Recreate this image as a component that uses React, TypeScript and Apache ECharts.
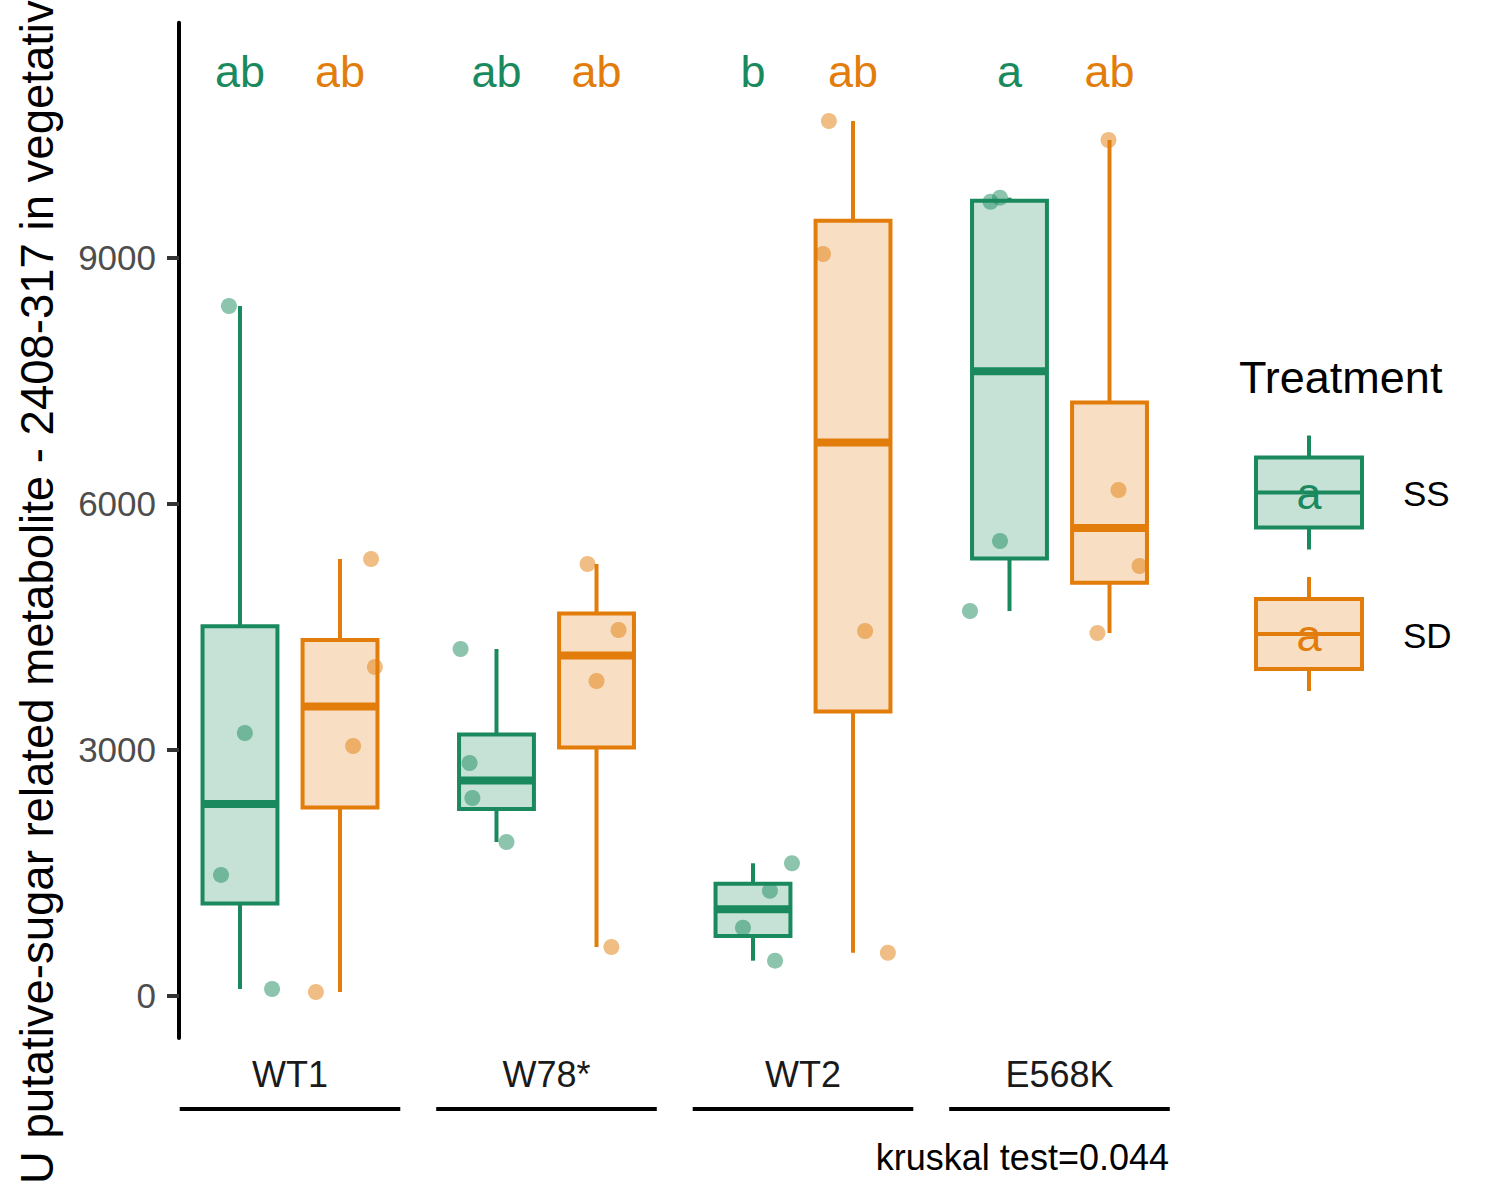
import React, { useEffect, useRef } from "react";
import * as echarts from "echarts";

// ---------- data ----------
const GROUPS = ["WT1", "W78*", "WT2", "E568K"];
const TREATMENTS = ["SS", "SD"];

// four plants per genotype and treatment
const SS_VALUES = [
  [8411, 3204, 1473, 82],
  [4228, 2838, 2411, 1874],
  [1615, 1280, 829, 427],
  [9683, 9732, 5545, 4691],
];
const SD_VALUES = [
  [5326, 4009, 3045, 45],
  [5265, 4460, 3838, 594],
  [10667, 9045, 4447, 524],
  [10435, 6167, 5240, 4423],
];
// horizontal jitter of each point (fraction of a category band)
const SS_JITTER = [
  [-0.043, 0.019, -0.074, 0.125],
  [-0.14, -0.105, -0.094, 0.039],
  [0.152, 0.066, -0.039, 0.086],
  [-0.074, -0.037, -0.037, -0.154],
];
const SD_JITTER = [
  [0.121, 0.136, 0.051, -0.094],
  [-0.035, 0.086, 0.0, 0.058],
  [-0.094, -0.117, 0.047, 0.136],
  [-0.004, 0.035, 0.117, -0.047],
];
const SS_LETTERS = ["ab", "ab", "b", "a"];
const SD_LETTERS = ["ab", "ab", "ab", "ab"];
const LETTER_Y = 11270;
const Y_TICKS = [0, 3000, 6000, 9000];
const Y_MIN = -516;
const Y_MAX = 11866;
const Y_TITLE = "U putative-sugar related metabolite - 2408-317 in vegetative tissue";
const TEST_NOTE = "kruskal test=0.044";
const LEGEND_TITLE = "Treatment";

// ---------- style ----------
const FONT = '"Liberation Sans", Arial, Helvetica, sans-serif';
const GREEN = "#1A8A5E";
const GREEN_FILL = "rgba(26,138,94,0.25)";
const ORANGE = "#E27D0C";
const ORANGE_FILL = "rgba(226,125,12,0.25)";
const DODGE = 0.195;
const BOX_W = 0.292;

function quantile(s: number[], p: number) {
  const h = (s.length - 1) * p;
  const lo = Math.floor(h);
  const hi = Math.min(lo + 1, s.length - 1);
  return s[lo] + (h - lo) * (s[hi] - s[lo]);
}
function boxStats(vals: number[]) {
  const s = [...vals].sort((a, b) => a - b);
  const q1 = quantile(s, 0.25);
  const md = quantile(s, 0.5);
  const q3 = quantile(s, 0.75);
  const iqr = q3 - q1;
  const lo = Math.min(...s.filter((v) => v >= q1 - 1.5 * iqr));
  const hi = Math.max(...s.filter((v) => v <= q3 + 1.5 * iqr));
  return [lo, q1, md, q3, hi];
}

function boxSeries(name: string, values: number[][], offset: number, color: string, fill: string) {
  return {
    name,
    type: "custom",
    xAxisIndex: 1,
    z: 2,
    clip: false,
    data: values.map((v, i) => [i + offset, ...boxStats(v)]),
    renderItem: (params: any, api: any) => {
      const x = api.value(0);
      const lo = api.coord([x, api.value(1)]);
      const q1 = api.coord([x, api.value(2)]);
      const md = api.coord([x, api.value(3)]);
      const q3 = api.coord([x, api.value(4)]);
      const hi = api.coord([x, api.value(5)]);
      const w = api.size([BOX_W, 0])[0];
      const ls = { stroke: color, lineWidth: 4 };
      return {
        type: "group",
        children: [
          { type: "line", shape: { x1: lo[0], y1: lo[1], x2: q1[0], y2: q1[1] }, style: ls },
          { type: "line", shape: { x1: q3[0], y1: q3[1], x2: hi[0], y2: hi[1] }, style: ls },
          {
            type: "rect",
            shape: { x: q3[0] - w / 2, y: q3[1], width: w, height: q1[1] - q3[1] },
            style: { fill, stroke: color, lineWidth: 4 },
          },
          {
            type: "line",
            shape: { x1: md[0] - w / 2, y1: md[1], x2: md[0] + w / 2, y2: md[1] },
            style: { stroke: color, lineWidth: 8 },
          },
        ],
      };
    },
  };
}

function pointSeries(name: string, values: number[][], jitter: number[][], offset: number, color: string) {
  const data: number[][] = [];
  values.forEach((g, i) => g.forEach((v, k) => data.push([i + offset + jitter[i][k], v])));
  return {
    name,
    type: "scatter",
    xAxisIndex: 1,
    z: 3,
    symbol: "circle",
    symbolSize: 16,
    itemStyle: { color, opacity: 0.5 },
    data,
  };
}

function letterSeries(name: string, letters: string[], offset: number, color: string) {
  return {
    name,
    type: "custom",
    xAxisIndex: 1,
    z: 4,
    clip: false,
    data: letters.map((_, i) => [i + offset, LETTER_Y]),
    renderItem: (params: any, api: any) => {
      const p = api.coord([api.value(0), api.value(1)]);
      return {
        type: "text",
        x: p[0],
        y: p[1],
        style: {
          text: letters[params.dataIndex],
          fill: color,
          font: `45px ${FONT}`,
          align: "center",
          verticalAlign: "middle",
          textAlign: "center",
          textVerticalAlign: "middle",
        },
      };
    },
  };
}

function legendKey(cy: number, label: string, color: string, fill: string) {
  const cx = 1309;
  const top = cy - 35;
  const bottom = cy + 35;
  return [
    { type: "line", shape: { x1: cx, y1: cy - 57, x2: cx, y2: top }, style: { stroke: color, lineWidth: 4 } },
    { type: "line", shape: { x1: cx, y1: bottom, x2: cx, y2: cy + 57 }, style: { stroke: color, lineWidth: 4 } },
    { type: "rect", shape: { x: 1256, y: top, width: 106, height: 70 }, style: { fill, stroke: color, lineWidth: 4 } },
    { type: "line", shape: { x1: 1256, y1: cy, x2: 1362, y2: cy }, style: { stroke: color, lineWidth: 4 } },
    {
      type: "text",
      x: cx,
      y: cy + 1,
      style: { text: "a", fill: color, font: `45px ${FONT}`, align: "center", verticalAlign: "middle", textAlign: "center", textVerticalAlign: "middle" },
    },
    {
      type: "text",
      x: 1403,
      y: cy + 1,
      style: { text: label, fill: "#000", font: `35px ${FONT}`, align: "left", verticalAlign: "middle", textAlign: "left", textVerticalAlign: "middle" },
    },
  ];
}

export default function App() {
  const ref = useRef<HTMLDivElement>(null);
  useEffect(() => {
    if (!ref.current) return;
    const chart = echarts.init(ref.current, null, { renderer: "svg" });
    const option: any = {
      animation: false,
      backgroundColor: "#ffffff",
      grid: { left: 161.75, right: 312.25, top: 22.7, bottom: 162, containLabel: false },
      xAxis: [
        {
          type: "category",
          data: GROUPS,
          boundaryGap: true,
          axisLine: { show: false },
          axisTick: { show: false },
          splitLine: { show: false },
          axisLabel: { fontSize: 36, color: "#1A1A1A", fontFamily: FONT, margin: 18 },
        },
        { type: "value", min: -0.5, max: 3.5, show: false },
      ],
      yAxis: {
        type: "value",
        min: Y_MIN,
        max: Y_MAX,
        offset: -17.25,
        splitLine: { show: false },
        axisLine: { show: true, onZero: false, lineStyle: { color: "#000", width: 4 } },
        axisTick: { show: true, length: 12, customValues: Y_TICKS, lineStyle: { color: "#333", width: 4 } },
        axisLabel: {
          customValues: Y_TICKS,
          formatter: (v: number) => String(v),
          fontSize: 35,
          color: "#4D4D4D",
          fontFamily: FONT,
          margin: 23,
        },
      },
      series: [
        {
          name: "group lines",
          type: "custom",
          xAxisIndex: 1,
          clip: false,
          silent: true,
          data: GROUPS.map((_, i) => [i, Y_MIN]),
          renderItem: (params: any, api: any) => {
            const a = api.coord([api.value(0) - 0.43, api.value(1)]);
            const b = api.coord([api.value(0) + 0.43, api.value(1)]);
            return {
              type: "line",
              shape: { x1: a[0], y1: a[1] + 71, x2: b[0], y2: b[1] + 71 },
              style: { stroke: "#000", lineWidth: 4 },
            };
          },
        },
        boxSeries(TREATMENTS[0], SS_VALUES, -DODGE, GREEN, GREEN_FILL),
        boxSeries(TREATMENTS[1], SD_VALUES, DODGE, ORANGE, ORANGE_FILL),
        pointSeries(TREATMENTS[0] + " points", SS_VALUES, SS_JITTER, -DODGE, GREEN),
        pointSeries(TREATMENTS[1] + " points", SD_VALUES, SD_JITTER, DODGE, ORANGE),
        letterSeries(TREATMENTS[0] + " letters", SS_LETTERS, -DODGE, GREEN),
        letterSeries(TREATMENTS[1] + " letters", SD_LETTERS, DODGE, ORANGE),
      ],
      graphic: [
        {
          type: "text",
          x: 37,
          y: 1184,
          rotation: Math.PI / 2,
          style: { text: Y_TITLE, fill: "#000", font: `45.5px ${FONT}`, align: "left", verticalAlign: "middle", textAlign: "left", textVerticalAlign: "middle" },
        },
        {
          type: "text",
          x: 1169,
          y: 1157.5,
          style: { text: TEST_NOTE, fill: "#000", font: `36px ${FONT}`, align: "right", verticalAlign: "middle", textAlign: "right", textVerticalAlign: "middle" },
        },
        {
          type: "text",
          x: 1239,
          y: 377.5,
          style: { text: LEGEND_TITLE, fill: "#000", font: `45px ${FONT}`, align: "left", verticalAlign: "middle", textAlign: "left", textVerticalAlign: "middle" },
        },
        ...legendKey(492.5, TREATMENTS[0], GREEN, GREEN_FILL),
        ...legendKey(634, TREATMENTS[1], ORANGE, ORANGE_FILL),
      ],
    };
    chart.setOption(option);
    return () => chart.dispose();
  }, []);
  return (
    <div
      ref={ref}
      style={{ position: "fixed", left: 0, top: 0, width: 1500, height: 1200, background: "#fff" }}
    />
  );
}
